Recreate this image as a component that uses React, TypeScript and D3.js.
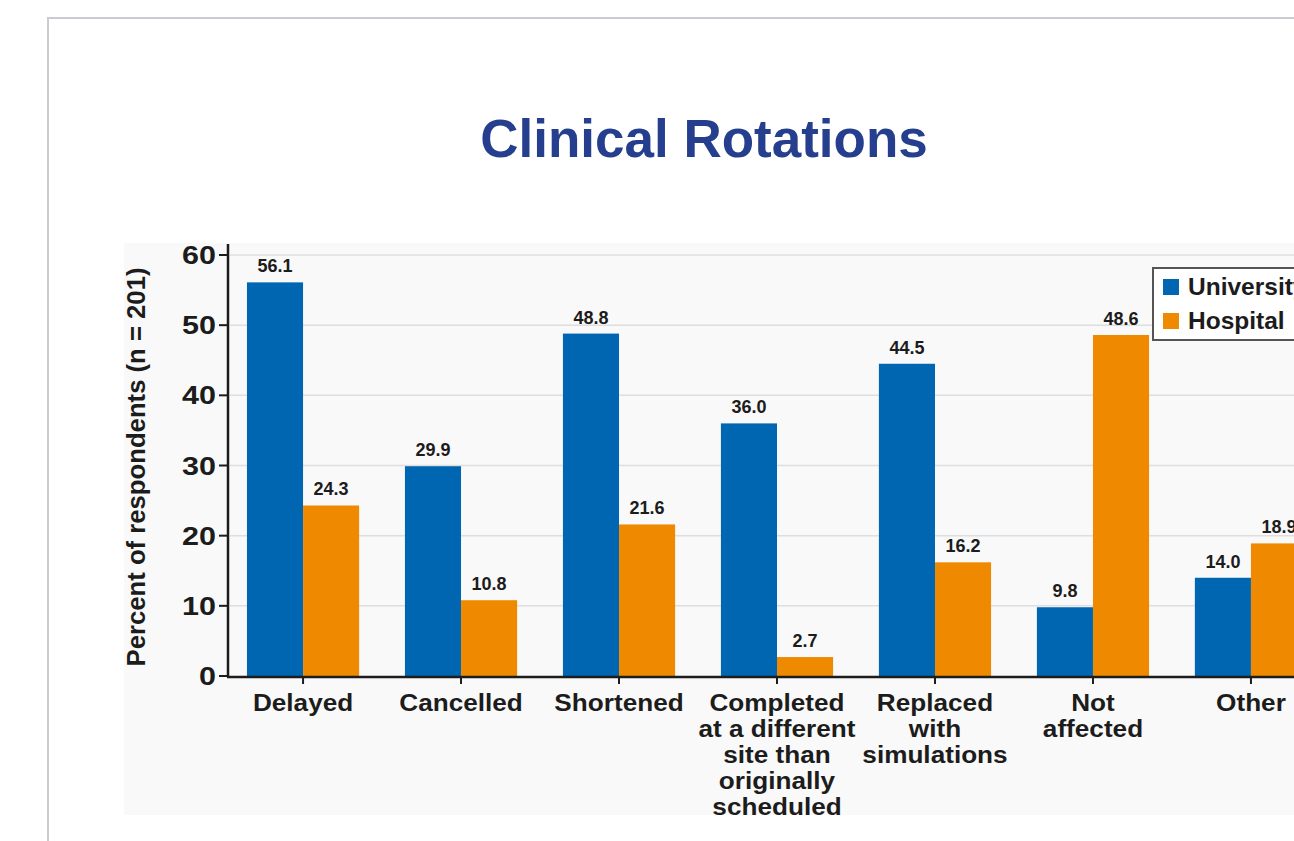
import React from 'react';
import * as d3 from 'd3';

const categories = [
  'Delayed',
  'Cancelled',
  'Shortened',
  'Completed at a different site than originally scheduled',
  'Replaced with simulations',
  'Not affected',
  'Other',
];
const categoryLines = [
  ['Delayed'],
  ['Cancelled'],
  ['Shortened'],
  ['Completed', 'at a different', 'site than', 'originally', 'scheduled'],
  ['Replaced', 'with', 'simulations'],
  ['Not', 'affected'],
  ['Other'],
];
const seriesNames = ['University', 'Hospital'];
const university = [56.1, 29.9, 48.8, 36.0, 44.5, 9.8, 14.0];
const hospital = [24.3, 10.8, 21.6, 2.7, 16.2, 48.6, 18.9];
const yTicks = [0, 10, 20, 30, 40, 50, 60];

const W = 1294;
const H = 841;
const FONT = '"Liberation Sans", Arial, Helvetica, sans-serif';
const COLORS = ['#0066b2', '#ef8a00'];
const INK = '#1c1c1c';

export default function App() {
  const x = d3.scaleBand<string>()
    .domain(categories)
    .range([228, 1326])
    .paddingInner(0.29)
    .paddingOuter(0.12);
  const inner = d3.scaleBand<string>()
    .domain(seriesNames)
    .range([0, x.bandwidth()]);
  const y = d3.scaleLinear().domain([0, 60]).range([676, 255]);

  const series = [university, hospital];

  return (
    <svg
      width={W}
      height={H}
      style={{ position: 'absolute', left: 0, top: 0, display: 'block', background: '#fff' }}
      fontFamily={FONT}
    >
      {/* slide frame */}
      <rect x={48} y={18} width={1400} height={1000} fill="#fff" stroke="#c9ccd1" strokeWidth={2} />

      <text x={704} y={157} textAnchor="middle" fontSize={53} fontWeight="bold" fill="#253f8e">
        Clinical Rotations
      </text>

      {/* chart image background */}
      <rect x={124} y={243} width={1300} height={572} fill="#f9f9f9" />

      {/* grid */}
      {yTicks.filter(t => t > 0).map(t => (
        <line key={t} x1={230} x2={W} y1={y(t)} y2={y(t)} stroke="#dedede" strokeWidth={1.5} />
      ))}

      {/* bars */}
      {categories.map((c, i) => (
        <g key={c} transform={`translate(${x(c)},0)`}>
          {series.map((s, j) => (
            <rect
              key={j}
              x={inner(seriesNames[j])}
              y={y(s[i])}
              width={inner.bandwidth()}
              height={y(0) - y(s[i])}
              fill={COLORS[j]}
            />
          ))}
          {series.map((s, j) => (
            <text
              key={'v' + j}
              x={(inner(seriesNames[j]) ?? 0) + inner.bandwidth() / 2}
              y={y(s[i]) - 10}
              textAnchor="middle"
              fontSize={18}
              fontWeight="bold"
              fill={INK}
            >
              {s[i].toFixed(1)}
            </text>
          ))}
        </g>
      ))}

      {/* y axis */}
      <line x1={228} x2={228} y1={244} y2={677} stroke={INK} strokeWidth={2.5} />
      {yTicks.map(t => (
        <g key={t}>
          <line x1={219} x2={228} y1={y(t)} y2={y(t)} stroke={INK} strokeWidth={2} />
          <text
            transform={`translate(216,${y(t)}) scale(1.22,1)`}
            dy="0.36em"
            textAnchor="end"
            fontSize={25}
            fontWeight="bold"
            fill={INK}
          >
            {t}
          </text>
        </g>
      ))}
      <text
        transform="translate(145,467) rotate(-90)"
        textAnchor="middle"
        fontSize={25.7}
        fontWeight="bold"
        fill={INK}
      >
        Percent of respondents (n = 201)
      </text>

      {/* x axis */}
      <line x1={227} x2={W} y1={677} y2={677} stroke={INK} strokeWidth={2.5} />
      {categories.map((c, i) => {
        const cx = (x(c) ?? 0) + x.bandwidth() / 2;
        return (
          <g key={c}>
            <line x1={cx} x2={cx} y1={677} y2={684} stroke={INK} strokeWidth={2} />
            <text
              transform={`translate(${cx},0) scale(1.09,1)`}
              textAnchor="middle"
              fontSize={24}
              fontWeight="bold"
              fill={INK}
            >
              {categoryLines[i].map((ln, k) => (
                <tspan key={k} x={0} y={711 + k * 26}>{ln}</tspan>
              ))}
            </text>
          </g>
        );
      })}

      {/* legend */}
      <rect x={1153} y={268} width={200} height={72} fill="#fff" stroke="#555" strokeWidth={2} />
      {seriesNames.map((n, j) => (
        <g key={n} transform={`translate(1163,${279 + j * 34})`}>
          <rect x={0} y={0} width={16} height={16} fill={COLORS[j]} />
          <text x={25} y={16} fontSize={24.5} fontWeight="bold" fill={INK}>{n}</text>
        </g>
      ))}
    </svg>
  );
}
